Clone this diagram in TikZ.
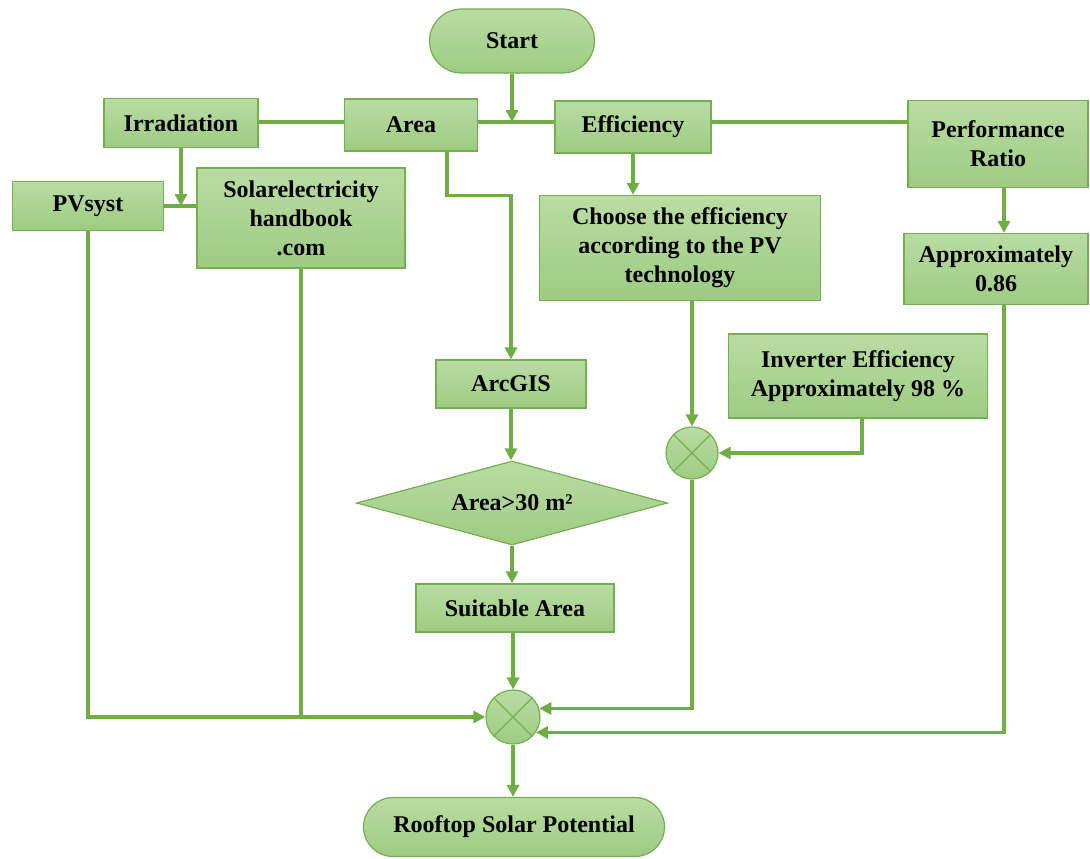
\documentclass[tikz,border=0pt]{standalone}
\usepackage{fontspec}
\setmainfont{Liberation Serif}
\usetikzlibrary{shapes.geometric,shapes.misc,arrows.meta}
\definecolor{LineGreen}{HTML}{70AD47}
\definecolor{EdgeGreen}{HTML}{76AE52}
\definecolor{FillTop}{HTML}{B9DCA3}
\definecolor{FillBot}{HTML}{9ECB82}

\begin{document}
\begin{tikzpicture}[x=0.5pt,y=-0.5pt]
\useasboundingbox (0,0) rectangle (1090,858);

\tikzset{BoxStyle/.style = {
 shape = rectangle,
 draw = EdgeGreen,
 line width = 0.6pt,
 top color = FillTop,
 bottom color = FillBot,
 text = black,
 font = \bfseries\fontsize{12}{14.5}\selectfont,
 align = center,
 inner sep = 2pt} }
\tikzset{EndStyle/.style = {BoxStyle, shape = rounded rectangle} }
\tikzset{CondStyle/.style = {BoxStyle, shape = diamond, aspect = 3.7, inner sep = 0pt} }
\tikzset{MultStyle/.style = {BoxStyle, shape = circle, inner sep = 0pt} }

\node[EndStyle, minimum width=86.5pt, minimum height=32pt] (Start) at (512,41) {Start};
\node[BoxStyle, minimum width=77pt, minimum height=24.5pt] (Irrad) at (181,123) {Irradiation};
\node[BoxStyle, minimum width=66.5pt, minimum height=26pt] (Area) at (411,125) {Area};
\node[BoxStyle, minimum width=78pt, minimum height=26pt] (Eff) at (633,127) {Efficiency};
\node[BoxStyle, minimum width=90pt, minimum height=43.5pt] (PR) at (998,144) {Performance\\Ratio};
\node[BoxStyle, minimum width=75.5pt, minimum height=24.5pt] (PVsyst) at (88,206) {PVsyst};
\node[BoxStyle, minimum width=104pt, minimum height=50pt] (SEH) at (301,218) {Solarelectricity\\handbook\\.com};
\node[BoxStyle, minimum width=140.5pt, minimum height=52.5pt] (Choose) at (680,248) {Choose the efficiency\\according to the PV\\technology};
\node[BoxStyle, minimum width=92pt, minimum height=35.5pt] (Approx) at (996,269) {Approximately\\0.86};
\node[BoxStyle, minimum width=75pt, minimum height=24pt] (ArcGIS) at (511,384) {ArcGIS};
\node[BoxStyle, minimum width=129.5pt, minimum height=42pt] (Inv) at (858,376) {Inverter Efficiency\\Approximately 98 \%};
\node[MultStyle, minimum size=26pt] (M1) at (692,453) {};
\node[CondStyle, minimum width=155.5pt, minimum height=42pt] (Cond) at (512,503) {Area>30 m²};
\node[BoxStyle, minimum width=99pt, minimum height=24pt] (Suit) at (515,608) {Suitable Area};
\node[MultStyle, minimum size=27pt] (M2) at (513,717) {};
\node[EndStyle, minimum width=154.5pt, minimum height=29.5pt] (Roof) at (514,827) {Rooftop Solar Potential};

\coordinate (J) at (514,122);

\tikzset{LineStyle/.style = {draw = LineGreen, line width = 1.6pt} }
\tikzset{ArrowStyle/.style = {LineStyle, -{Triangle[length=6pt,width=6pt]}} }

\foreach \m in {M1,M2} {
 \draw[EdgeGreen, line width=0.6pt] (\m.north east) -- (\m.south west) (\m.north west) -- (\m.south east);
}

\draw[ArrowStyle] (Start.south) -- (Start.south |- J);
\draw[LineStyle] (Irrad.east |- J) -- (Area.west |- J);
\draw[LineStyle] (Area.east |- J) -- (Eff.west |- J);
\draw[LineStyle] (Eff.east |- J) -- (PR.west |- J);
\draw[ArrowStyle] (Irrad.south) -- (Irrad.south |- PVsyst.east);
\draw[LineStyle] (PVsyst.east) -- (PVsyst.east -| SEH.west);
\draw[ArrowStyle] ([xshift=18pt]Area.south) -- ++(0,44) -| (ArcGIS.north);
\draw[ArrowStyle] (Eff.south) -- (Eff.south |- Choose.north);
\draw[ArrowStyle] ([xshift=3pt]PR.south) -- ([xshift=3pt]PR.south |- Approx.north);
\draw[ArrowStyle] (M1.north |- Choose.south) -- (M1.north);
\draw[ArrowStyle] ([xshift=2pt]Inv.south) |- (M1.east);
\draw[ArrowStyle] (M1.south) |- (M2.18);
\draw[ArrowStyle] ([xshift=4pt]Approx.south) |- (M2.-34);
\draw[ArrowStyle] (PVsyst.south) |- (M2.west);
\draw[LineStyle] (SEH.south) -- (SEH.south |- M2.west);
\draw[ArrowStyle] (ArcGIS.south) -- (ArcGIS.south |- Cond.north);
\draw[ArrowStyle] (Cond.south) -- (Cond.south |- Suit.north);
\draw[ArrowStyle] (M2.north |- Suit.south) -- (M2.north);
\draw[ArrowStyle] (M2.south) -- (M2.south |- Roof.north);

\end{tikzpicture}
\end{document}
